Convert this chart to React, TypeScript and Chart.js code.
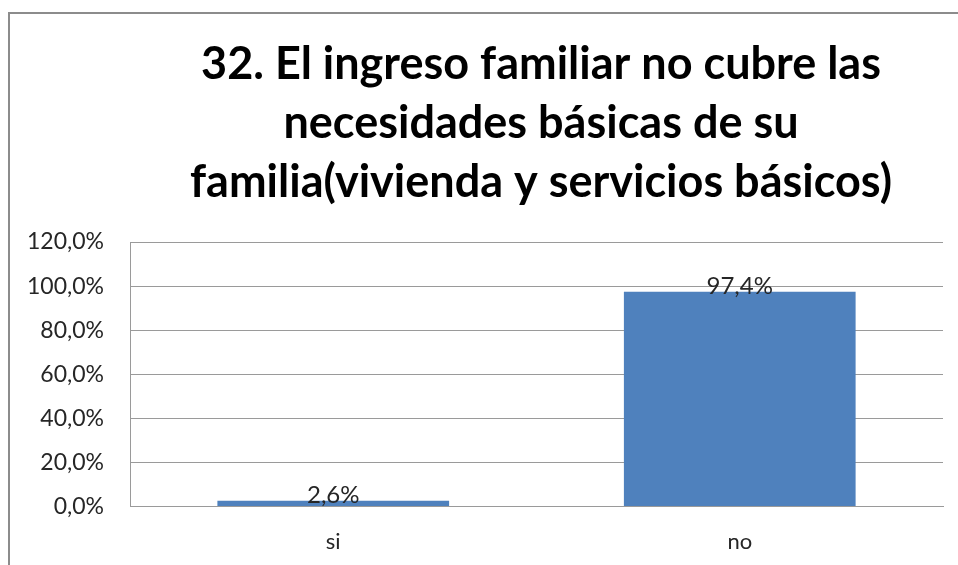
import React, { useEffect, useRef } from "react";
import { Chart, registerables } from "chart.js";

Chart.register(...registerables);

const categories = ["si", "no"];
const values = [2.6, 97.4];
const titleLines = [
  "32. El ingreso familiar no cubre las",
  "necesidades básicas de su",
  "familia(vivienda y servicios básicos)",
];
const yMax = 120;
const yStep = 20;

const fmt = (v: number) => v.toFixed(1).replace(".", ",") + "%";

const dataLabelPlugin = {
  id: "dataLabels",
  afterDatasetsDraw(chart: any) {
    const ctx = chart.ctx;
    const meta = chart.getDatasetMeta(0);
    ctx.save();
    ctx.font = "24px Lato";
    ctx.fillStyle = "#262626";
    ctx.textAlign = "center";
    ctx.textBaseline = "alphabetic";
    meta.data.forEach((el: any, i: number) => {
      ctx.fillText(fmt(values[i]), el.x, el.y + 2);
    });
    ctx.restore();
  },
};

const titlePlugin = {
  id: "customTitle",
  afterDraw(chart: any) {
    const ctx = chart.ctx;
    ctx.save();
    ctx.font = "bold 45px Lato";
    ctx.fillStyle = "#000000";
    ctx.textAlign = "center";
    ctx.textBaseline = "alphabetic";
    titleLines.forEach((line, i) => {
      ctx.fillText(line, 531, 65 + i * 59);
    });
    ctx.restore();
  },
};

export default function App() {
  const ref = useRef<HTMLCanvasElement | null>(null);
  useEffect(() => {
    if (!ref.current) return;
    const chart = new Chart(ref.current, {
      type: "bar",
      data: {
        labels: categories,
        datasets: [
          {
            data: values,
            backgroundColor: "#4F81BD",
            borderWidth: 0,
            categoryPercentage: 1,
            barPercentage: 0.57,
          },
        ],
      },
      options: {
        animation: false,
        responsive: true,
        maintainAspectRatio: false,
        layout: { padding: { left: 0, right: 15, top: 228, bottom: -12 } },
        plugins: {
          legend: { display: false },
          tooltip: { enabled: false },
          title: { display: false },
        },
        scales: {
          x: {
            grid: { display: false, drawTicks: false },
            border: { display: true, color: "#9a9a9a" },
            ticks: {
              color: "#262626",
              font: { family: "Lato", size: 22 },
              padding: 22,
            },
          },
          y: {
            min: 0,
            max: yMax,
            afterFit: (scale: any) => {
              scale.width = 120;
            },
            grid: { color: "#9a9a9a", drawTicks: false },
            border: { display: true, color: "#9a9a9a" },
            ticks: {
              stepSize: yStep,
              color: "#262626",
              font: { family: "Lato", size: 23 },
              padding: 26,
              callback: (v: any) => fmt(Number(v)),
            },
          },
        },
      },
      plugins: [dataLabelPlugin, titlePlugin],
    });
    return () => chart.destroy();
  }, []);
  return (
    <div
      style={{
        position: "absolute",
        left: 8,
        top: 12,
        width: 960,
        height: 560,
        borderTop: "2px solid #8c8c8c",
        borderLeft: "2px solid #8c8c8c",
        background: "#fff",
      }}
    >
      <div style={{ position: "relative", width: 948, height: 551 }}>
        <canvas ref={ref} />
      </div>
    </div>
  );
}
